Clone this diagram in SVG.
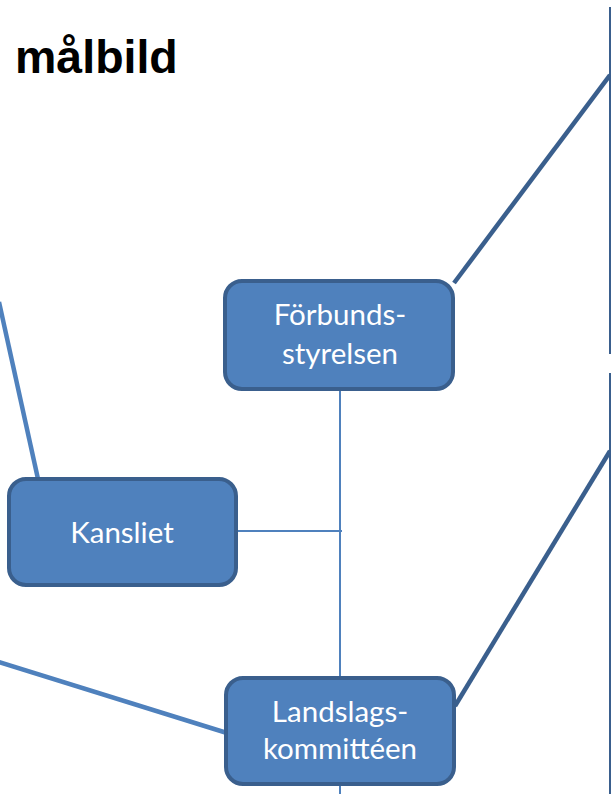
<svg xmlns="http://www.w3.org/2000/svg" width="611" height="794" viewBox="0 0 611 794">
<style>
.box{fill:#4F81BD;stroke:#3A5F8D;stroke-width:4}
.lbl{font-family:Lato,"Open Sans",sans-serif;font-size:29.5px;fill:#FFFFFF;text-anchor:middle}
.thin{stroke:#4F81BD;stroke-width:2;fill:none}
.light{stroke:#4F81BD;stroke-width:4.5;fill:none}
.dark{stroke:#3A5F8D;stroke-width:4.5;fill:none}
.rule{stroke:#3A5F8D;stroke-width:2;fill:none}
</style>
<rect width="611" height="794" fill="#FFFFFF"/>
<text x="15" y="73" font-family="Liberation Sans,Arial,sans-serif" font-weight="bold" font-size="46.5" fill="#000000">målbild</text>
<g id="connectors">
<line class="rule" x1="610" y1="7" x2="610" y2="354"/>
<line class="rule" x1="610" y1="373" x2="610" y2="794"/>
<line class="dark" x1="454" y1="283" x2="610" y2="75"/>
<line class="dark" x1="455" y1="706" x2="610" y2="451"/>
<line class="light" x1="-1" y1="302" x2="38" y2="479"/>
<line class="light" x1="-1" y1="662" x2="227" y2="733"/>
<line class="thin" x1="340" y1="391" x2="340" y2="676"/>
<line class="thin" x1="340" y1="786" x2="340" y2="794"/>
<line class="thin" x1="238" y1="531" x2="342" y2="531"/>
</g>
<g id="forbundsstyrelsen">
<rect class="box" x="225" y="281" width="228" height="108" rx="17"/>
<text class="lbl" x="340" y="325">Förbunds-</text>
<text class="lbl" x="340" y="364">styrelsen</text>
</g>
<g id="kansliet">
<rect class="box" x="9" y="479" width="227" height="106" rx="17"/>
<text class="lbl" x="122" y="543">Kansliet</text>
</g>
<g id="landslagskommitteen">
<rect class="box" x="226" y="678" width="228" height="106" rx="17"/>
<text class="lbl" x="340" y="722">Landslags-</text>
<text class="lbl" x="340" y="759">kommittéen</text>
</g>
</svg>
